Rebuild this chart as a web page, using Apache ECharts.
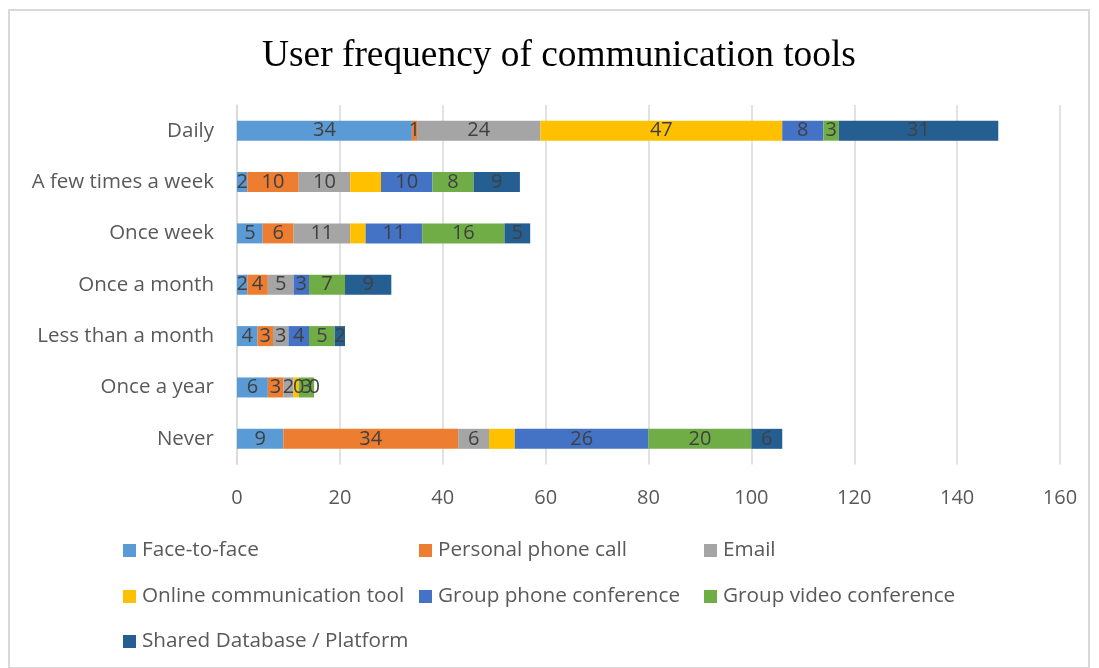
<!DOCTYPE html>
<html>
<head>
<meta charset="utf-8">
<script src="https://cdn.jsdelivr.net/npm/echarts@6/dist/echarts.min.js"></script>
<style>
html,body{margin:0;padding:0;background:#fff;}
#frame{position:absolute;left:8px;top:9px;width:1082px;height:660px;border:2px solid #d9d9d9;box-sizing:border-box;}
#chart{position:absolute;left:0;top:0;width:1099px;height:668px;}
</style>
</head>
<body>
<div id="frame"></div>
<div id="chart"></div>
<script>
const categories = ["Daily", "A few times a week", "Once week", "Once a month", "Less than a month", "Once a year", "Never"];
const seriesNames = ["Face-to-face", "Personal phone call", "Email", "Online communication tool", "Group phone conference", "Group video conference", "Shared Database / Platform"];
const faceToFace = [34, 2, 5, 2, 4, 6, 9];
const personalPhone = [1, 10, 6, 4, 3, 3, 34];
const email = [24, 10, 11, 5, 3, 2, 6];
const onlineTool = [47, 6, 3, 0, 0, 1, 5];
const groupPhone = [8, 10, 11, 3, 4, 0, 26];
const groupVideo = [3, 8, 16, 7, 5, 3, 20];
const sharedDb = [31, 9, 5, 9, 2, 0, 6];
const xTicks = [0, 20, 40, 60, 80, 100, 120, 140, 160];

const colors = ["#5B9BD5", "#ED7D31", "#A5A5A5", "#FFC000", "#4472C4", "#70AD47", "#255E91"];
const allValues = [faceToFace, personalPhone, email, onlineTool, groupPhone, groupVideo, sharedDb];

const chart = echarts.init(document.getElementById('chart'));
const font = "'Open Sans', 'Noto Sans', sans-serif";

const series = seriesNames.map((name, si) => ({
  name: name,
  type: 'bar',
  stack: 'total',
  barWidth: 20,
  itemStyle: { color: colors[si] },
  label: {
    show: si !== 3,
    position: 'inside',
    color: '#404040',
    fontFamily: font,
    fontSize: 20,
    formatter: p => String(p.value)
  },
  data: allValues[si].map((v, ci) => {
    if (si === 3 && ci === 0) return { value: v, label: { show: true } };
    return v;
  })
}));

const legendPos = [
  [123, 540], [419, 540], [704, 540],
  [123, 586], [419, 586], [704, 586],
  [123, 631]
];
const legends = seriesNames.map((n, i) => ({
  data: [n],
  left: legendPos[i][0],
  top: legendPos[i][1],
  padding: 0,
  itemWidth: 13,
  itemHeight: 13,
  itemGap: 0,
  icon: 'rect',
  textStyle: { color: '#595959', fontSize: 20.7, fontFamily: font, padding: [0, 0, 0, 1] }
}));

chart.setOption({
  animation: false,
  color: colors,
  title: {
    text: 'User frequency of communication tools',
    left: 262,
    top: 38,
    padding: 0,
    textStyle: { fontFamily: "'Liberation Serif', 'DejaVu Serif', serif", fontSize: 37.4, fontWeight: 'normal', color: '#000' }
  },
  legend: legends,
  grid: { left: 237, right: 39, top: 105, height: 359.5, containLabel: false },
  xAxis: {
    type: 'value',
    min: 0,
    max: 160,
    interval: 20,
    axisLine: { show: false },
    axisTick: { show: false },
    splitLine: { show: true, lineStyle: { color: '#d9d9d9', width: 1.5 } },
    axisLabel: {
      color: '#595959', fontSize: 20, fontFamily: font, margin: 24,
      formatter: v => xTicks.includes(v) ? String(v) : ''
    }
  },
  yAxis: {
    type: 'category',
    inverse: true,
    data: categories,
    axisLine: { show: true, lineStyle: { color: '#d9d9d9', width: 1.5 } },
    axisTick: { show: false },
    axisLabel: { color: '#595959', fontSize: 20.5, fontFamily: font, margin: 23 }
  },
  series: series
});
</script>
</body>
</html>
